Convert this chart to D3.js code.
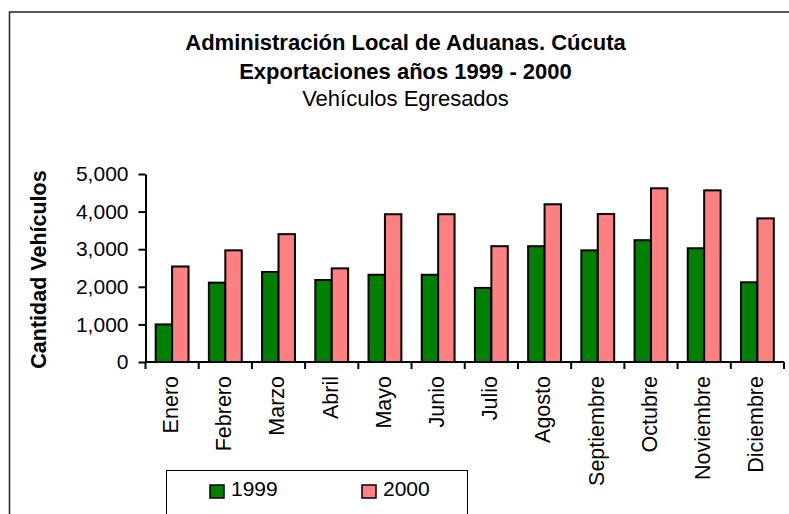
<!DOCTYPE html>
<html>
<head>
<meta charset="utf-8">
<script src="https://cdn.jsdelivr.net/npm/d3@7"></script>
<style>
  body { margin: 0; background: #fff; }
  text { font-family: "Liberation Sans", Arial, sans-serif; fill: #000; }
</style>
</head>
<body>
<div id="graph"></div>
<script>
(function(){
	"use strict";

	// datos
	var meses = ["Enero", "Febrero", "Marzo", "Abril", "Mayo", "Junio", "Julio",
		"Agosto", "Septiembre", "Octubre", "Noviembre", "Diciembre"];
	var anios = ["1999", "2000"];
	var v1999 = [1000, 2110, 2395, 2180, 2320, 2320, 1970, 3080, 2970, 3240, 3025, 2120];
	var v2000 = [2540, 2970, 3400, 2490, 3930, 3930, 3080, 4195, 3935, 4620, 4565, 3820];
	var yTicks = [0, 1000, 2000, 3000, 4000, 5000];
	var titulos = ["Administración Local de Aduanas. Cúcuta", "Exportaciones años 1999 - 2000", "Vehículos Egresados"];

	var width = 789, height = 514;
	var colores = {"1999": "#008000", "2000": "#ff8080"};

	var svg = d3.select("#graph").append("svg")
		.attr("width", width)
		.attr("height", height);

	// marco exterior
	svg.append("rect")
		.attr("x", 9.5).attr("y", 12)
		.attr("width", 820).attr("height", 540)
		.attr("fill", "none")
		.attr("stroke", "#222")
		.attr("stroke-width", 1.5);

	// titulos
	svg.selectAll(".titulo")
		.data(titulos)
		.enter().append("text")
		.attr("class", "titulo")
		.attr("x", 405.5)
		.attr("y", function(d, i) { return [50, 78.5, 106][i]; })
		.attr("text-anchor", "middle")
		.style("font-size", "22px")
		.style("font-weight", function(d, i) { return i < 2 ? "bold" : "normal"; })
		.text(function(d) { return d; });

	var x = d3.scaleBand()
		.domain(meses)
		.range([145.5, 784])
		.padding(0);

	var x1 = d3.scaleBand()
		.domain(anios)
		.range([0, x.bandwidth()])
		.paddingInner(0)
		.paddingOuter(0.62);

	var y = d3.scaleLinear()
		.domain([0, 5000])
		.range([362, 174]);

	var data = meses.map(function(m, i) {
		return {mes: m, valores: [{anio: "1999", v: v1999[i]}, {anio: "2000", v: v2000[i]}]};
	});

	// barras
	var grupos = svg.selectAll(".mes")
		.data(data)
		.enter().append("g")
		.attr("class", "mes")
		.attr("transform", function(d) { return "translate(" + x(d.mes) + ",0)"; });

	grupos.selectAll("rect")
		.data(function(d) { return d.valores; })
		.enter().append("rect")
		.attr("x", function(d) { return x1(d.anio); })
		.attr("y", function(d) { return y(d.v); })
		.attr("width", x1.bandwidth())
		.attr("height", function(d) { return y(0) - y(d.v); })
		.attr("fill", function(d) { return colores[d.anio]; })
		.attr("stroke", "#000")
		.attr("stroke-width", 2);

	// eje y
	var ejeY = svg.append("g")
		.attr("transform", "translate(" + x.range()[0] + ",0)")
		.call(d3.axisLeft(y).tickValues(yTicks).tickFormat(d3.format(",")).tickSize(7).tickSizeOuter(0).tickPadding(10));
	ejeY.selectAll("path, line").attr("stroke", "#000").attr("stroke-width", 2);
	ejeY.selectAll("text").style("font-size", "21px").attr("fill", "#000");

	// eje x: linea y marcas entre categorias
	var ejeX = svg.append("g").attr("class", "axis--x");
	ejeX.append("line")
		.attr("x1", x.range()[0]).attr("x2", x.range()[1])
		.attr("y1", y(0)).attr("y2", y(0))
		.attr("stroke", "#000").attr("stroke-width", 2);
	ejeX.selectAll(".marca")
		.data(meses.concat(["fin"]))
		.enter().append("line")
		.attr("class", "marca")
		.attr("x1", function(d) { return d === "fin" ? x.range()[1] : x(d); })
		.attr("x2", function(d) { return d === "fin" ? x.range()[1] : x(d); })
		.attr("y1", y(0)).attr("y2", y(0) + 7)
		.attr("stroke", "#000").attr("stroke-width", 2);
	ejeX.selectAll(".etiqueta")
		.data(meses)
		.enter().append("text")
		.attr("class", "etiqueta")
		.attr("transform", function(d) { return "translate(" + (x(d) + x.bandwidth() / 2) + ",376) rotate(-90)"; })
		.attr("dy", "0.27em")
		.attr("text-anchor", "end")
		.style("font-size", "21.5px")
		.text(function(d) { return d; });

	// titulo eje y
	svg.append("text")
		.attr("transform", "translate(46,269.5) rotate(-90)")
		.attr("text-anchor", "middle")
		.style("font-size", "21.5px")
		.style("font-weight", "bold")
		.text("Cantidad Vehículos");

	// leyenda
	var legend = svg.append("g").attr("class", "legend");
	legend.append("rect")
		.attr("x", 166.5).attr("y", 470.5)
		.attr("width", 301).attr("height", 60)
		.attr("fill", "#fff")
		.attr("stroke", "#000")
		.attr("stroke-width", 1);

	var item = legend.selectAll(".item")
		.data(anios)
		.enter().append("g")
		.attr("class", "item")
		.attr("transform", function(d, i) { return "translate(" + [210, 362][i] + ",485)"; });
	item.append("rect")
		.attr("width", 14).attr("height", 13)
		.attr("fill", function(d) { return colores[d]; })
		.attr("stroke", "#000")
		.attr("stroke-width", 1.5);
	item.append("text")
		.attr("x", 21)
		.attr("y", 11)
		.style("font-size", "21px")
		.text(function(d) { return d; });
})();
</script>
</body>
</html>
